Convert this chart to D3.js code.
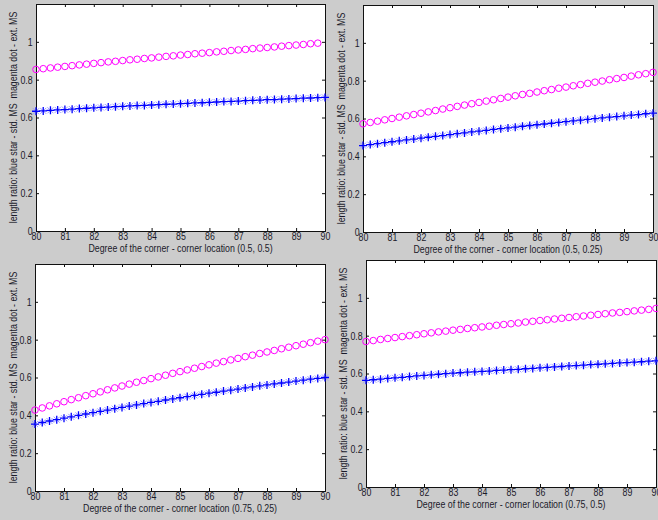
<!DOCTYPE html>
<html>
<head>
<meta charset="utf-8">
<script src="https://cdn.jsdelivr.net/npm/d3@7"></script>
<style>
  body { margin: 0; background: #cccccc; }
  svg { display: block; }
  text { font-family: "Liberation Sans", Arial, sans-serif; fill: #1a1a2a; }
</style>
</head>
<body>
<div id="chart"></div>
<script>

var degrees = d3.range(0, 41).map(function(i){ return 80 + i * 0.25 })
var xTicks = [80, 81, 82, 83, 84, 85, 86, 87, 88, 89, 90]
var yTicks = [0, 0.2, 0.4, 0.6, 0.8, 1]
var yLabel = "length ratio: blue star - std. MS\u00a0\u00a0magenta dot - ext. MS"

// corner location (0.5, 0.5)
var ext_05_05 = [0.854,0.858,0.862,0.866, 0.870,0.874,0.878,0.882, 0.886,0.890,0.894,0.897,
  0.901,0.905,0.908,0.912, 0.915,0.919,0.923,0.926, 0.930,0.933,0.937,0.940,
  0.943,0.947,0.950,0.954, 0.957,0.960,0.964,0.967, 0.970,0.973,0.977,0.980,
  0.983,0.986,0.990,0.993]
var std_05_05 = [0.633,0.635,0.638,0.640, 0.642,0.644,0.647,0.649, 0.651,0.653,0.655,0.657,
  0.659,0.661,0.663,0.664, 0.666,0.668,0.670,0.671, 0.673,0.675,0.677,0.678,
  0.680,0.682,0.684,0.685, 0.687,0.689,0.691,0.692, 0.694,0.695,0.697,0.698,
  0.700,0.702,0.703,0.705, 0.706]

// corner location (0.5, 0.25)
var ext_05_025 = [0.572,0.579,0.586,0.593, 0.600,0.607,0.614,0.621, 0.628,0.635,0.642,0.650,
  0.657,0.664,0.671,0.678, 0.685,0.692,0.699,0.706, 0.713,0.720,0.727,0.733,
  0.740,0.747,0.753,0.760, 0.766,0.773,0.779,0.786, 0.792,0.798,0.805,0.811,
  0.817,0.824,0.831,0.837, 0.844]
var std_05_025 = [0.457,0.462,0.467,0.472, 0.477,0.482,0.487,0.491, 0.496,0.501,0.506,0.510,
  0.515,0.520,0.524,0.529, 0.533,0.537,0.542,0.546, 0.550,0.554,0.559,0.563,
  0.567,0.571,0.575,0.579, 0.583,0.587,0.591,0.595, 0.599,0.603,0.607,0.610,
  0.614,0.618,0.621,0.625, 0.628]

// corner location (0.75, 0.25)
var ext_075_025 = [0.428,0.439,0.450,0.461, 0.472,0.483,0.493,0.504, 0.514,0.524,0.535,0.545,
  0.555,0.565,0.575,0.584, 0.594,0.603,0.612,0.622, 0.631,0.640,0.649,0.658,
  0.667,0.676,0.684,0.693, 0.701,0.710,0.718,0.727, 0.735,0.743,0.752,0.760,
  0.768,0.776,0.784,0.792, 0.800]
var std_075_025 = [0.354,0.362,0.370,0.377, 0.385,0.392,0.400,0.407, 0.414,0.421,0.428,0.435,
  0.442,0.449,0.455,0.462, 0.468,0.474,0.481,0.487, 0.493,0.499,0.505,0.511,
  0.517,0.522,0.528,0.533, 0.539,0.545,0.550,0.556, 0.561,0.566,0.571,0.576,
  0.581,0.586,0.591,0.595, 0.600]

// corner location (0.75, 0.5)
var ext_075_05 = [0.769,0.774,0.780,0.785, 0.790,0.795,0.800,0.805, 0.810,0.815,0.820,0.824,
  0.829,0.833,0.838,0.842, 0.846,0.850,0.855,0.859, 0.863,0.867,0.872,0.876,
  0.880,0.884,0.888,0.892, 0.896,0.900,0.904,0.908, 0.912,0.916,0.920,0.923,
  0.927,0.931,0.935,0.939, 0.944]
var std_075_05 = [0.564,0.567,0.570,0.574, 0.577,0.580,0.584,0.587, 0.590,0.593,0.596,0.599,
  0.602,0.604,0.607,0.609, 0.611,0.613,0.616,0.618, 0.620,0.622,0.625,0.627,
  0.630,0.632,0.635,0.637, 0.640,0.642,0.644,0.647, 0.649,0.651,0.653,0.656,
  0.658,0.660,0.662,0.665, 0.667]

var panels = [
  {loc: "(0.5, 0.5)",   ext: ext_05_05,   std: std_05_05,   left: 36,  top: 4,   right: 325, bottom: 231, labX: 13},
  {loc: "(0.5, 0.25)",  ext: ext_05_025,  std: std_05_025,  left: 363, top: 5,   right: 653, bottom: 232, labX: 341},
  {loc: "(0.75, 0.25)", ext: ext_075_025, std: std_075_025, left: 35,  top: 264, right: 325, bottom: 491, labX: 13},
  {loc: "(0.75, 0.5)",  ext: ext_075_05,  std: std_075_05,  left: 366, top: 260, right: 656, bottom: 487, labX: 343}
]

var width = 658,
    height = 520,
    squeeze = 0.84   // the screenshot text is narrow

var svg = d3.select("#chart")
  .append("svg")
    .attr("width", width)
    .attr("height", height)

svg.append("rect")
  .attr("width", width)
  .attr("height", height)
  .attr("fill", "#cccccc")

panels.forEach(function(p){
  var x = d3.scaleLinear().domain([80, 90]).range([p.left, p.right])
  var y = d3.scaleLinear().domain([0, 1.2]).range([p.bottom, p.top])

  var g = svg.append("g")

  g.append("rect")
    .attr("x", p.left)
    .attr("y", p.top)
    .attr("width", p.right - p.left)
    .attr("height", p.bottom - p.top)
    .attr("fill", "white")

  // inward ticks on all four sides, like matlab's box on
  g.append("g")
    .attr("transform", "translate(0," + p.bottom + ")")
    .call(d3.axisBottom(x).tickValues(xTicks).tickSize(-3).tickPadding(2).tickFormat(d3.format("d")))
  g.append("g")
    .attr("transform", "translate(" + p.left + ",0)")
    .call(d3.axisLeft(y).tickValues(yTicks).tickSize(-3).tickPadding(4).tickFormat(function(d){ return String(d) }))
  g.append("g")
    .attr("transform", "translate(0," + p.top + ")")
    .call(d3.axisTop(x).tickValues(xTicks).tickSize(-3).tickFormat(""))
  g.append("g")
    .attr("transform", "translate(" + p.right + ",0)")
    .call(d3.axisRight(y).tickValues(yTicks).tickSize(-3).tickFormat(""))

  g.selectAll(".domain").attr("stroke", "#111").attr("stroke-width", 1)
  g.selectAll(".tick line").attr("stroke", "#111")
  g.selectAll(".tick text")
    .attr("font-size", 10.5)
    .attr("fill", "#1a1a2a")
    .attr("transform", "scale(" + squeeze + ",1)")

  // blue star - std. MS
  var stars = g.append("g").selectAll("g")
    .data(p.std)
    .enter()
    .append("g")
      .attr("transform", function(d, i){ return "translate(" + x(degrees[i]) + "," + y(d) + ")" })
  stars.append("path")
    .attr("d", "M-3,-3L3,3M-3,3L3,-3")
    .attr("stroke", "#9a9aff")
    .attr("stroke-width", 1)
  stars.append("path")
    .attr("d", "M-4,0H4M0,-4V4")
    .attr("stroke", "#0000ff")
    .attr("stroke-width", 1.3)

  // magenta circle - ext. MS
  g.append("g").selectAll("circle")
    .data(p.ext)
    .enter()
    .append("circle")
      .attr("cx", function(d, i){ return x(degrees[i]) })
      .attr("cy", function(d){ return y(d) })
      .attr("r", 3.3)
      .attr("fill", "none")
      .attr("stroke", "#ff00ff")
      .attr("stroke-width", 1)

  g.append("text")
    .attr("transform", "translate(" + ((p.left + p.right) / 2) + "," + (p.bottom + 21) + ") scale(" + squeeze + ",1)")
    .attr("text-anchor", "middle")
    .attr("font-size", 10.5)
    .text("Degree of the corner - corner location " + p.loc)

  g.append("text")
    .attr("transform", "translate(" + p.labX + "," + ((p.top + p.bottom) / 2) + ") rotate(-90) scale(" + squeeze + ",1)")
    .attr("text-anchor", "middle")
    .attr("dy", "0.35em")
    .attr("font-size", 10.5)
    .text(yLabel)
})

</script>
</body>
</html>
